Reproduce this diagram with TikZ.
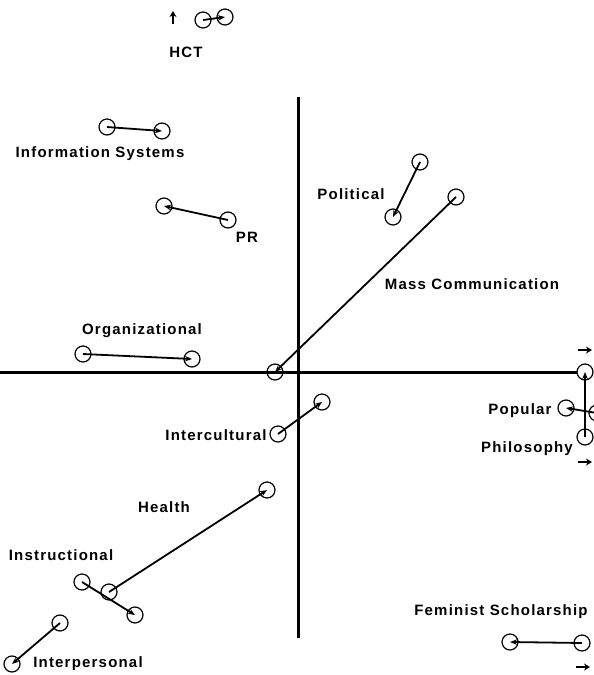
\documentclass[tikz,border=0pt]{standalone}
\usepackage{fontspec}
\usepackage{tikz}
\usetikzlibrary{arrows.meta}
\newfontfamily\labelFont[LetterSpace=8]{Liberation Sans}
\tikzstyle{chart} = [x = 1pt, y = -1pt]
\tikzstyle{axisLine} = [line width = 3pt]
\tikzstyle{pointStyle} = [circle, draw, line width = 1.2pt, minimum size = 16pt, inner sep = 0pt]
\tikzstyle{moveLine} = [line width = 1.8pt, -{Stealth[length = 7pt, width = 5.5pt]}]
\tikzstyle{offChart} = [line width = 2pt, -{Stealth[length = 6pt, width = 7pt]}]
\tikzstyle{fieldText} = [font = \labelFont\bfseries\fontsize{15}{17}\selectfont, inner sep = 0pt, text height = 10.7pt, text depth = 0pt]
\newcommand{\fieldMove}[3]{\node [pointStyle] (#1From) at (#2) {}; \node [pointStyle] (#1To) at (#3) {}; \draw [moveLine] (#1From.center) -- (#1To.center);}
\newcommand{\offArrow}[3]{\coordinate (#1Tail) at (#2); \coordinate (#1Head) at (#3); \draw [offChart] (#1Tail) -- (#1Head);}

\begin{document}
\begin{tikzpicture}[chart]
\useasboundingbox (0,0) rectangle (594,675);
% axes
\coordinate (axisWest) at (0,372);
\coordinate (axisEast) at (577,372);
\coordinate (axisNorth) at (298,97);
\coordinate (axisSouth) at (298,638);
\draw [axisLine] (axisWest) -- (axisEast);
\draw [axisLine] (axisNorth) -- (axisSouth);
% moves of the fields
\fieldMove{hct}{203,20}{225,17}
\fieldMove{infoSys}{107,127}{162,131}
\fieldMove{pr}{228,220}{164,206}
\fieldMove{political}{420,162}{393,217}
\fieldMove{massComm}{456,197}{275,372}
\fieldMove{organizational}{83,354}{192,359}
\fieldMove{intercultural}{278,434}{322,402}
\fieldMove{health}{109,592}{267,490}
\fieldMove{instructional}{82,582}{135,615}
\fieldMove{interpersonal}{60,623}{12,664}
\fieldMove{feminist}{582,643}{510,642}
\fieldMove{popular}{597,413}{566,408}
\fieldMove{philosophy}{585,437}{585,372}
% points off the chart
\offArrow{hctOff}{173,24}{173,11}
\offArrow{eastTop}{578,350}{592,350}
\offArrow{eastMid}{578,462}{592,462}
\offArrow{eastLow}{576,667}{590,667}
% labels
\node [fieldText] (hctText) at (186,52) {HCT};
\node [fieldText] (infoSysText) at (100,152) {Information Systems};
\node [fieldText] (prText) at (247,237) {PR};
\node [fieldText] (politicalText) at (351,194) {Political};
\node [fieldText] (massCommText) at (472,284) {Mass Communication};
\node [fieldText] (organizationalText) at (142,329) {Organizational};
\node [fieldText] (interculturalText) at (216,435) {Intercultural};
\node [fieldText] (popularText) at (520,409) {Popular};
\node [fieldText] (philosophyText) at (527,447) {Philosophy};
\node [fieldText] (healthText) at (164,507) {Health};
\node [fieldText] (instructionalText) at (61,555) {Instructional};
\node [fieldText] (interpersonalText) at (88,662) {Interpersonal};
\node [fieldText] (feministText) at (501,610) {Feminist Scholarship};
\end{tikzpicture}
\end{document}
